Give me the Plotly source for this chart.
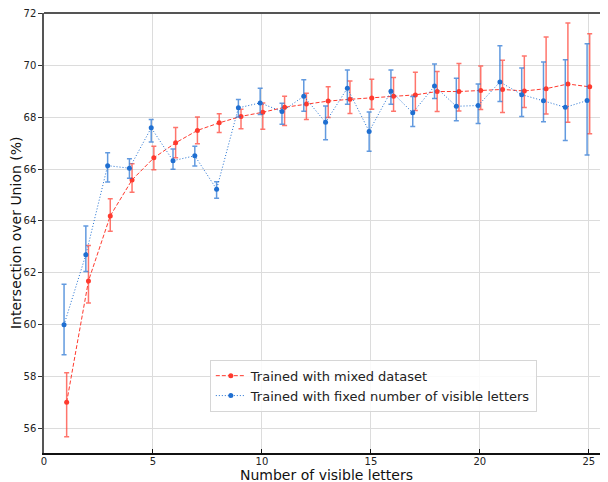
import plotly.graph_objects as go

letters = list(range(1, 26))

mixed_iou = [57.0, 61.68, 64.19, 65.58, 66.43, 67.01, 67.49, 67.78, 68.03, 68.19,
             68.38, 68.51, 68.62, 68.69, 68.74, 68.81, 68.86, 68.99, 68.99, 69.03,
             69.07, 69.01, 69.10, 69.28, 69.17]
mixed_upper = [58.14, 63.05, 64.85, 66.2, 66.88, 67.6, 68.01, 68.13, 68.31, 68.55,
               68.81, 68.92, 69.17, 69.4, 69.46, 69.53, 69.73, 69.76, 70.07, 69.97,
               70.2, 70.36, 71.09, 71.63, 71.22]
mixed_lower = [55.67, 60.83, 63.6, 65.1, 65.97, 66.43, 66.97, 67.41, 67.55, 67.53,
               67.68, 67.91, 67.99, 68.14, 68.31, 68.23, 68.26, 68.22, 68.24, 68.3,
               68.18, 68.37, 68.12, 67.8, 67.36]

fixed_iou = [59.99, 62.69, 66.13, 66.03, 67.59, 66.32, 66.51, 65.22, 68.36, 68.55,
             68.22, 68.81, 67.8, 69.12, 67.45, 69.0, 68.17, 69.2, 68.42, 68.45,
             69.36, 68.87, 68.63, 68.38, 68.64]
fixed_upper = [61.55, 63.8, 66.63, 66.4, 67.91, 66.77, 66.88, 65.51, 68.68, 69.12,
               68.54, 69.44, 68.43, 69.82, 68.2, 69.82, 68.8, 70.05, 69.5, 69.28,
               70.76, 69.9, 70.13, 70.22, 70.83]
fixed_lower = [58.83, 62.04, 65.5, 65.64, 67.04, 65.99, 66.12, 64.87, 68.01, 68.1,
               67.73, 68.23, 67.13, 68.5, 66.68, 68.5, 67.64, 68.72, 67.86, 67.76,
               68.6, 68.03, 67.82, 67.1, 66.54]

x_ticks = [0, 5, 10, 15, 20, 25]
y_ticks = [56, 58, 60, 62, 64, 66, 68, 70, 72]

RED = "#ff3a2e"
BLUE = "#1f6fd1"
FONT = "DejaVu Sans"

fig = go.Figure()

fig.add_trace(go.Scatter(
    x=[v + 0.04 for v in letters], y=mixed_iou,
    mode="lines+markers",
    name="Trained with mixed dataset",
    line=dict(color=RED, width=1, dash="4px,2px"),
    marker=dict(color=RED, size=5),
    error_y=dict(type="data", symmetric=False,
                 array=[u - m for u, m in zip(mixed_upper, mixed_iou)],
                 arrayminus=[m - l for m, l in zip(mixed_iou, mixed_lower)],
                 color="rgba(255,58,46,0.7)", thickness=1.5, width=2.5),
))

fig.add_trace(go.Scatter(
    x=[v - 0.08 for v in letters], y=fixed_iou,
    mode="lines+markers",
    name="Trained with fixed number of visible letters",
    line=dict(color=BLUE, width=1, dash="1px,2px"),
    marker=dict(color=BLUE, size=5),
    error_y=dict(type="data", symmetric=False,
                 array=[u - m for u, m in zip(fixed_upper, fixed_iou)],
                 arrayminus=[m - l for m, l in zip(fixed_iou, fixed_lower)],
                 color="rgba(31,111,209,0.7)", thickness=1.5, width=2.5),
))

# page body adds an 8px offset, so the figure is 600x474 and margins are shifted
fig.update_layout(
    width=600, height=474,
    margin=dict(l=36, r=0, t=5, b=29, autoexpand=False),
    paper_bgcolor="white", plot_bgcolor="white",
    font=dict(family=FONT, size=10, color="#222222"),
    showlegend=True,
    legend=dict(
        x=0.294, y=0.212, xanchor="left", yanchor="top",
        bgcolor="rgba(255,255,255,0.85)", bordercolor="#d6d6d6", borderwidth=1,
        font=dict(family=FONT, size=13, color="#222222"),
        tracegroupgap=0, itemwidth=30,
    ),
    shapes=[dict(type="line", xref="paper", yref="paper", x0=0, x1=1, y0=1, y1=1,
                 line=dict(color="#555555", width=2))],
    annotations=[
        dict(text="Number of visible letters", xref="paper", yref="paper",
             x=0.5, y=-0.051, xanchor="center", yanchor="middle", showarrow=False,
             font=dict(family=FONT, size=14, color="#111111")),
        dict(text="Intersection over Union (%)", xref="paper", yref="paper",
             x=-0.0496, y=0.5, xanchor="center", yanchor="middle", showarrow=False,
             textangle=-90, font=dict(family=FONT, size=14, color="#111111")),
    ],
)

fig.update_xaxes(
    range=[0, 25.88], tickvals=x_ticks, ticktext=[str(t) for t in x_ticks],
    showgrid=True, gridcolor="#dcdcdc", gridwidth=1,
    showline=True, linecolor="#111111", linewidth=1.5,
    ticks="inside", ticklen=4, tickcolor="#111111",
    ticklabelstandoff=-2,
    zeroline=False, automargin=False,
    tickfont=dict(family=FONT, size=10, color="#222222"),
)

fig.update_yaxes(
    range=[55.04, 72.02], tickvals=y_ticks, ticktext=[str(t) for t in y_ticks],
    showgrid=True, gridcolor="#dcdcdc", gridwidth=1,
    showline=True, linecolor="#555555", linewidth=1.5,
    ticks="outside", ticklen=4, tickcolor="#333333",
    zeroline=False, automargin=False,
    tickfont=dict(family=FONT, size=10, color="#222222"),
)

fig.write_html("out.html")
